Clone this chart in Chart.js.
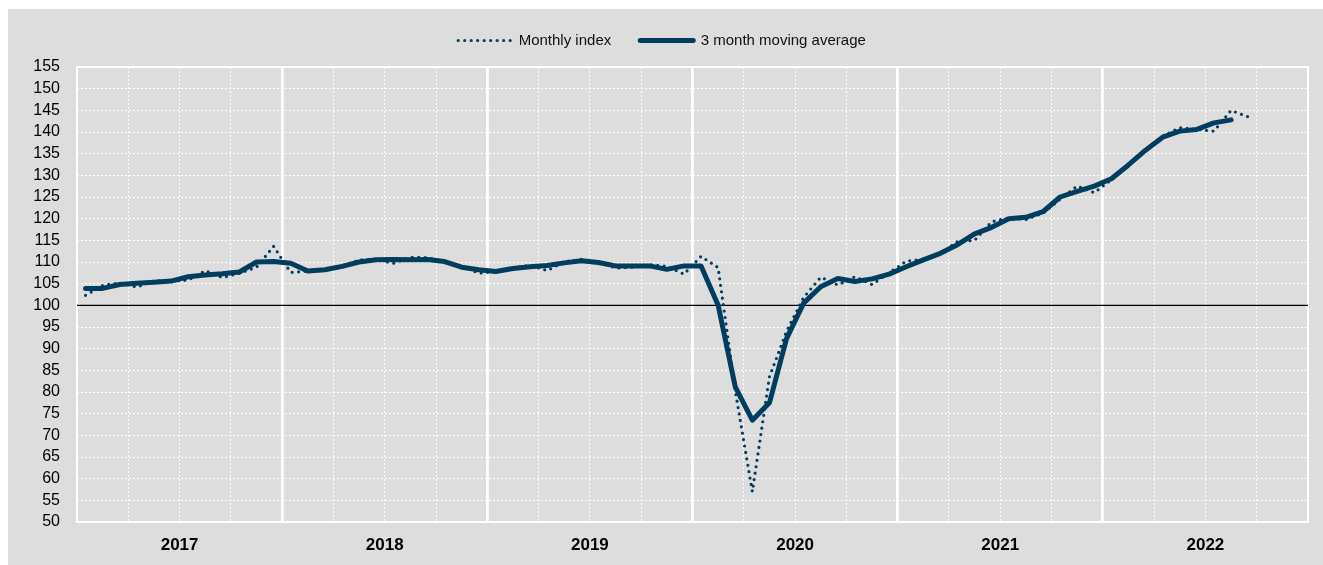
<!DOCTYPE html>
<html>
<head>
<meta charset="utf-8">
<script src="https://cdn.jsdelivr.net/npm/chart.js@4.4.1/dist/chart.umd.min.js"></script>
<style>
  html, body { margin: 0; padding: 0; background: #ffffff; }
  #wrap { position: absolute; left: 8px; top: 9px; width: 1315px; height: 556px; background: #dddddd; }
  canvas { display: block; }
</style>
</head>
<body>
<div id="wrap"><canvas id="c" width="1315" height="556"></canvas></div>
<script>
// ---- data (monthly, starting January 2017) ----
const years = ['2017', '2018', '2019', '2020', '2021', '2022'];
const monthlyIndex = [
  102.3, 104.6, 105.2, 104.2, 105.7, 105.6, 105.8, 108.0, 106.4, 107.4, 108.8, 113.6,
  107.6, 107.9, 108.2, 108.7, 110.5, 110.6, 109.7, 111.1, 111.0, 110.2, 109.1, 107.4,
  107.8, 108.6, 109.3, 108.0, 110.1, 110.6, 110.0, 108.6, 108.8, 109.4, 109.0, 107.2,
  111.3, 108.7, 80.3, 57.0, 83.5, 94.0, 101.8, 106.5, 104.7, 106.6, 104.8, 107.5,
  110.2, 110.6, 112.0, 114.7, 115.0, 119.3, 120.2, 119.8, 121.3, 124.5, 127.5, 126.0,
  129.0, 132.5, 136.0, 139.0, 141.0, 140.6, 140.2, 145.0, 143.5
];
const movingAverage3 = [
  103.9, 103.9, 104.8, 105.1, 105.3, 105.6, 106.6, 107.0, 107.3, 107.7, 110.0, 110.1,
  109.7, 107.9, 108.2, 109.0, 110.0, 110.5, 110.6, 110.5, 110.6, 110.1, 108.8, 108.2,
  107.8, 108.5, 108.9, 109.2, 109.8, 110.3, 109.9, 109.1, 109.1, 109.1, 108.3, 109.1,
  109.1, 100.0, 81.2, 73.5, 77.5, 92.3, 100.5, 104.3, 106.2, 105.5, 106.1, 107.2,
  108.9, 110.5, 112.0, 114.0, 116.5, 118.0, 120.0, 120.3, 121.6, 125.0, 126.3, 127.5,
  129.2, 132.4, 135.8, 138.8, 140.2, 140.6, 142.1, 142.8
];
const yTicks = [50, 55, 60, 65, 70, 75, 80, 85, 90, 95, 100, 105, 110, 115, 120, 125, 130, 135, 140, 145, 150, 155];
const baseline = 100;

const nMonths = years.length * 12;
const toPoints = arr => arr.map((v, i) => ({ x: i + 0.5, y: v }));

const FONT = "'Liberation Sans', Arial, sans-serif";
const NAVY = '#003d5e';

const plotFrame = {
  id: 'plotFrame',
  afterInit(chart) {
    const lg = chart.legend;
    if (lg && !lg._patchedFit) {
      const origFit = lg.fit;
      lg.fit = function () { origFit.call(this); this.height = 63; };
      lg._patchedFit = true;
    }
  },
  beforeDatasetsDraw(chart) {
    const a = chart.chartArea, ctx = chart.ctx;
    ctx.save();
    ctx.strokeStyle = '#ffffff';
    ctx.lineWidth = 2;
    ctx.strokeRect(a.left, a.top, a.right - a.left, a.bottom - a.top);
    ctx.restore();
  }
};

new Chart(document.getElementById('c'), {
  type: 'line',
  data: {
    datasets: [
      {
        label: 'Monthly index',
        data: toPoints(monthlyIndex),
        borderColor: NAVY,
        backgroundColor: NAVY,
        borderWidth: 3.2,
        borderDash: [0, 6.5],
        borderCapStyle: 'round',
        pointRadius: 0,
        tension: 0,
        order: 2,
        xAxisID: 'x'
      },
      {
        label: '3 month moving average',
        data: toPoints(movingAverage3),
        borderColor: NAVY,
        backgroundColor: NAVY,
        borderWidth: 5,
        borderCapStyle: 'round',
        borderJoinStyle: 'round',
        pointRadius: 0,
        tension: 0,
        order: 1,
        xAxisID: 'x'
      },
      {
        label: 'base',
        data: [{ x: 0, y: baseline }, { x: nMonths, y: baseline }],
        borderColor: '#000000',
        borderWidth: 1.3,
        pointRadius: 0,
        order: 3,
        xAxisID: 'x'
      }
    ]
  },
  options: {
    responsive: false,
    animation: false,
    events: [],
    layout: { padding: { left: 8, right: 15, top: -5, bottom: 0 } },
    plugins: {
      tooltip: { enabled: false },
      legend: {
        position: 'top',
        labels: {
          usePointStyle: true,
          pointStyle: 'line',
          pointStyleWidth: 53,
          boxHeight: 10,
          padding: 29,
          color: '#111111',
          font: { family: FONT, size: 15 },
          generateLabels: chart => chart.data.datasets
            .map((ds, i) => ({
              text: ds.label,
              datasetIndex: i,
              fillStyle: ds.borderColor,
              strokeStyle: ds.borderColor,
              lineWidth: ds.borderWidth,
              lineDash: ds.borderDash || [],
              lineCap: ds.borderCapStyle || 'butt',
              pointStyle: 'line',
              hidden: false,
              fontColor: '#111111'
            }))
            .filter(it => it.text !== 'base')
        }
      }
    },
    scales: {
      x: {
        type: 'linear',
        min: 0, max: nMonths,
        position: 'bottom',
        afterBuildTicks: ax => {
          const t = [];
          for (let m = 3; m < nMonths; m += 3) if (m % 12 !== 0) t.push({ value: m });
          ax.ticks = t;
        },
        afterFit: ax => { ax.height = 0; },
        ticks: { display: false },
        grid: { color: '#ffffff', lineWidth: 1, drawTicks: false },
        border: { display: false, dash: [2, 2] }
      },
      xYear: {
        type: 'linear',
        min: 0, max: nMonths,
        position: 'bottom',
        afterBuildTicks: ax => {
          const t = [];
          for (let m = 12; m < nMonths; m += 12) t.push({ value: m });
          ax.ticks = t;
        },
        afterFit: ax => { ax.height = 0; },
        ticks: { display: false },
        grid: { color: '#ffffff', lineWidth: 2.8, drawTicks: false },
        border: { display: false }
      },
      xLabel: {
        type: 'linear',
        min: 0, max: nMonths,
        position: 'bottom',
        afterBuildTicks: ax => {
          ax.ticks = years.map((y, i) => ({ value: i * 12 + 6 }));
        },
        afterFit: ax => { ax.height = 43; },
        ticks: {
          autoSkip: false,
          maxRotation: 0,
          padding: 13,
          color: '#000000',
          font: { family: FONT, size: 17, weight: 'bold' },
          callback: (v) => years[Math.round((v - 6) / 12)]
        },
        grid: { display: false, drawTicks: false },
        border: { display: false }
      },
      y: {
        min: 50, max: 155,
        afterBuildTicks: ax => { ax.ticks = yTicks.map(v => ({ value: v })); },
        afterFit: ax => { ax.width = 61; },
        ticks: {
          autoSkip: false,
          padding: 17,
          color: '#000000',
          font: { family: FONT, size: 16 }
        },
        grid: { color: '#ffffff', lineWidth: 1, drawTicks: false },
        border: { display: false, dash: [2, 2] }
      }
    }
  },
  plugins: [plotFrame]
});
</script>
</body>
</html>
